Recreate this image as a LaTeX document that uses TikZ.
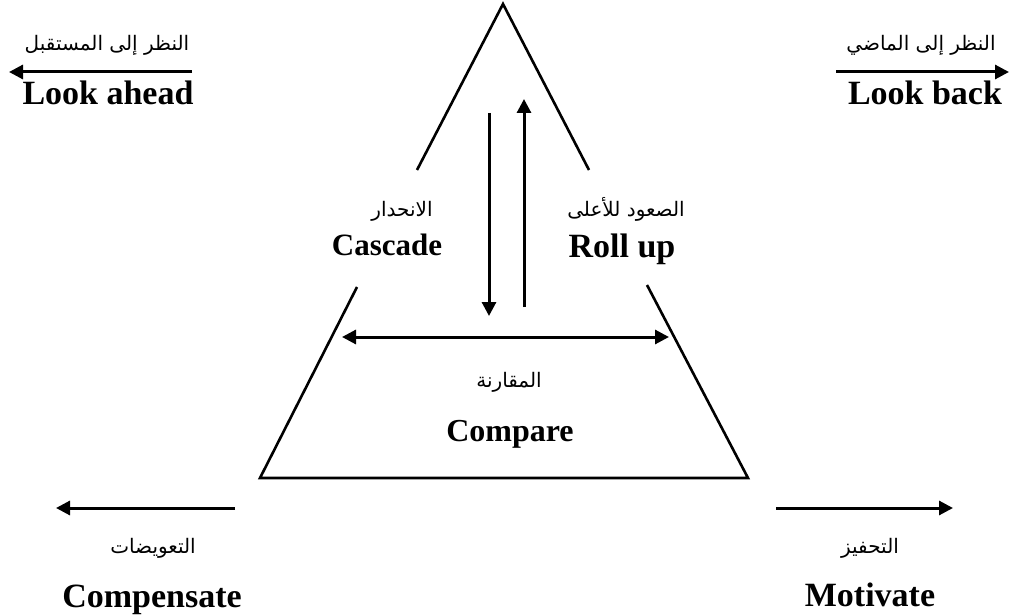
\documentclass[tikz,border=0pt]{standalone}
\usepackage{fontspec}
\setmainfont{Liberation Serif}
\newfontfamily\arabicfont[Script=Arabic]{DejaVu Sans}
\TeXXeTstate=1
\usetikzlibrary{arrows.meta}
\begin{document}
\begin{tikzpicture}[x=1pt,y=-1pt,
  tri/.style={line width=2.6pt, line join=miter},
  arr/.style={line width=3pt,-{Triangle[length=14pt,width=14pt]}},
  darr/.style={line width=3pt,{Triangle[length=14pt,width=14pt]}-{Triangle[length=14pt,width=14pt]}},
  en/.style={font=\bfseries\fontsize{34}{34}\selectfont, inner sep=0pt, anchor=base},
  enm/.style={font=\bfseries\fontsize{#1}{#1}\selectfont, inner sep=0pt, anchor=base},
  ar/.style={font=\arabicfont\fontsize{20}{24}\selectfont, inner sep=0pt, anchor=base},
]
\useasboundingbox (0,0) rectangle (1010,615);
% triangle
\coordinate (apex) at (503,4);
\coordinate (bl) at (260,478);
\coordinate (br) at (748,478);
\coordinate (L1) at (417,170);
\coordinate (L2) at (357,287);
\coordinate (R1) at (589,170);
\coordinate (R2) at (647,285);
\draw[tri] (L1) -- (apex) -- (R1);
\draw[tri] (L2) -- (bl) -- (br) -- (R2);
% inner arrows
\coordinate (dn1) at (489,113);
\coordinate (dn2) at (489,316);
\coordinate (up1) at (524,307);
\coordinate (up2) at (524,99);
\draw[arr] (dn1) -- (dn2);
\draw[arr] (up1) -- (up2);
\coordinate (cmpL) at (342,337);
\coordinate (cmpR) at (669,337);
\draw[darr] (cmpL) -- (cmpR);
% inner labels
\node[ar] (casAr) at (402,217) {\beginR الانحدار\endR};
\node[enm=31] (cas) at (387,255) {Cascade};
\node[ar] (rolAr) at (626,216) {\beginR الصعود للأعلى\endR};
\node[enm=34] (rol) at (622,257) {Roll up};
\node[ar] (cmpAr) at (509,387) {\beginR المقارنة\endR};
\node[enm=32] (cmp) at (510,441) {Compare};
% top left
\node[ar] (laAr) at (107,51) {\beginR النظر إلى المستقبل\endR};
\coordinate (la1) at (192,72);
\coordinate (la2) at (9,72);
\draw[arr] (la1) -- (la2);
\node[en] (la) at (108,105) {Look ahead};
% top right
\node[ar] (lbAr) at (921,51) {\beginR النظر إلى الماضي\endR};
\coordinate (lb1) at (836,72);
\coordinate (lb2) at (1009,72);
\draw[arr] (lb1) -- (lb2);
\node[en] (lb) at (925,105) {Look back};
% bottom left
\coordinate (cp1) at (235,508);
\coordinate (cp2) at (56,508);
\draw[arr] (cp1) -- (cp2);
\node[ar] (cpAr) at (153,553) {\beginR التعويضات\endR};
\node[en] (cp) at (152,607) {Compensate};
% bottom right
\coordinate (mo1) at (776,508);
\coordinate (mo2) at (953,508);
\draw[arr] (mo1) -- (mo2);
\node[ar] (moAr) at (870,553) {\beginR التحفيز\endR};
\node[en] (mo) at (870,606) {Motivate};
\end{tikzpicture}
\end{document}
